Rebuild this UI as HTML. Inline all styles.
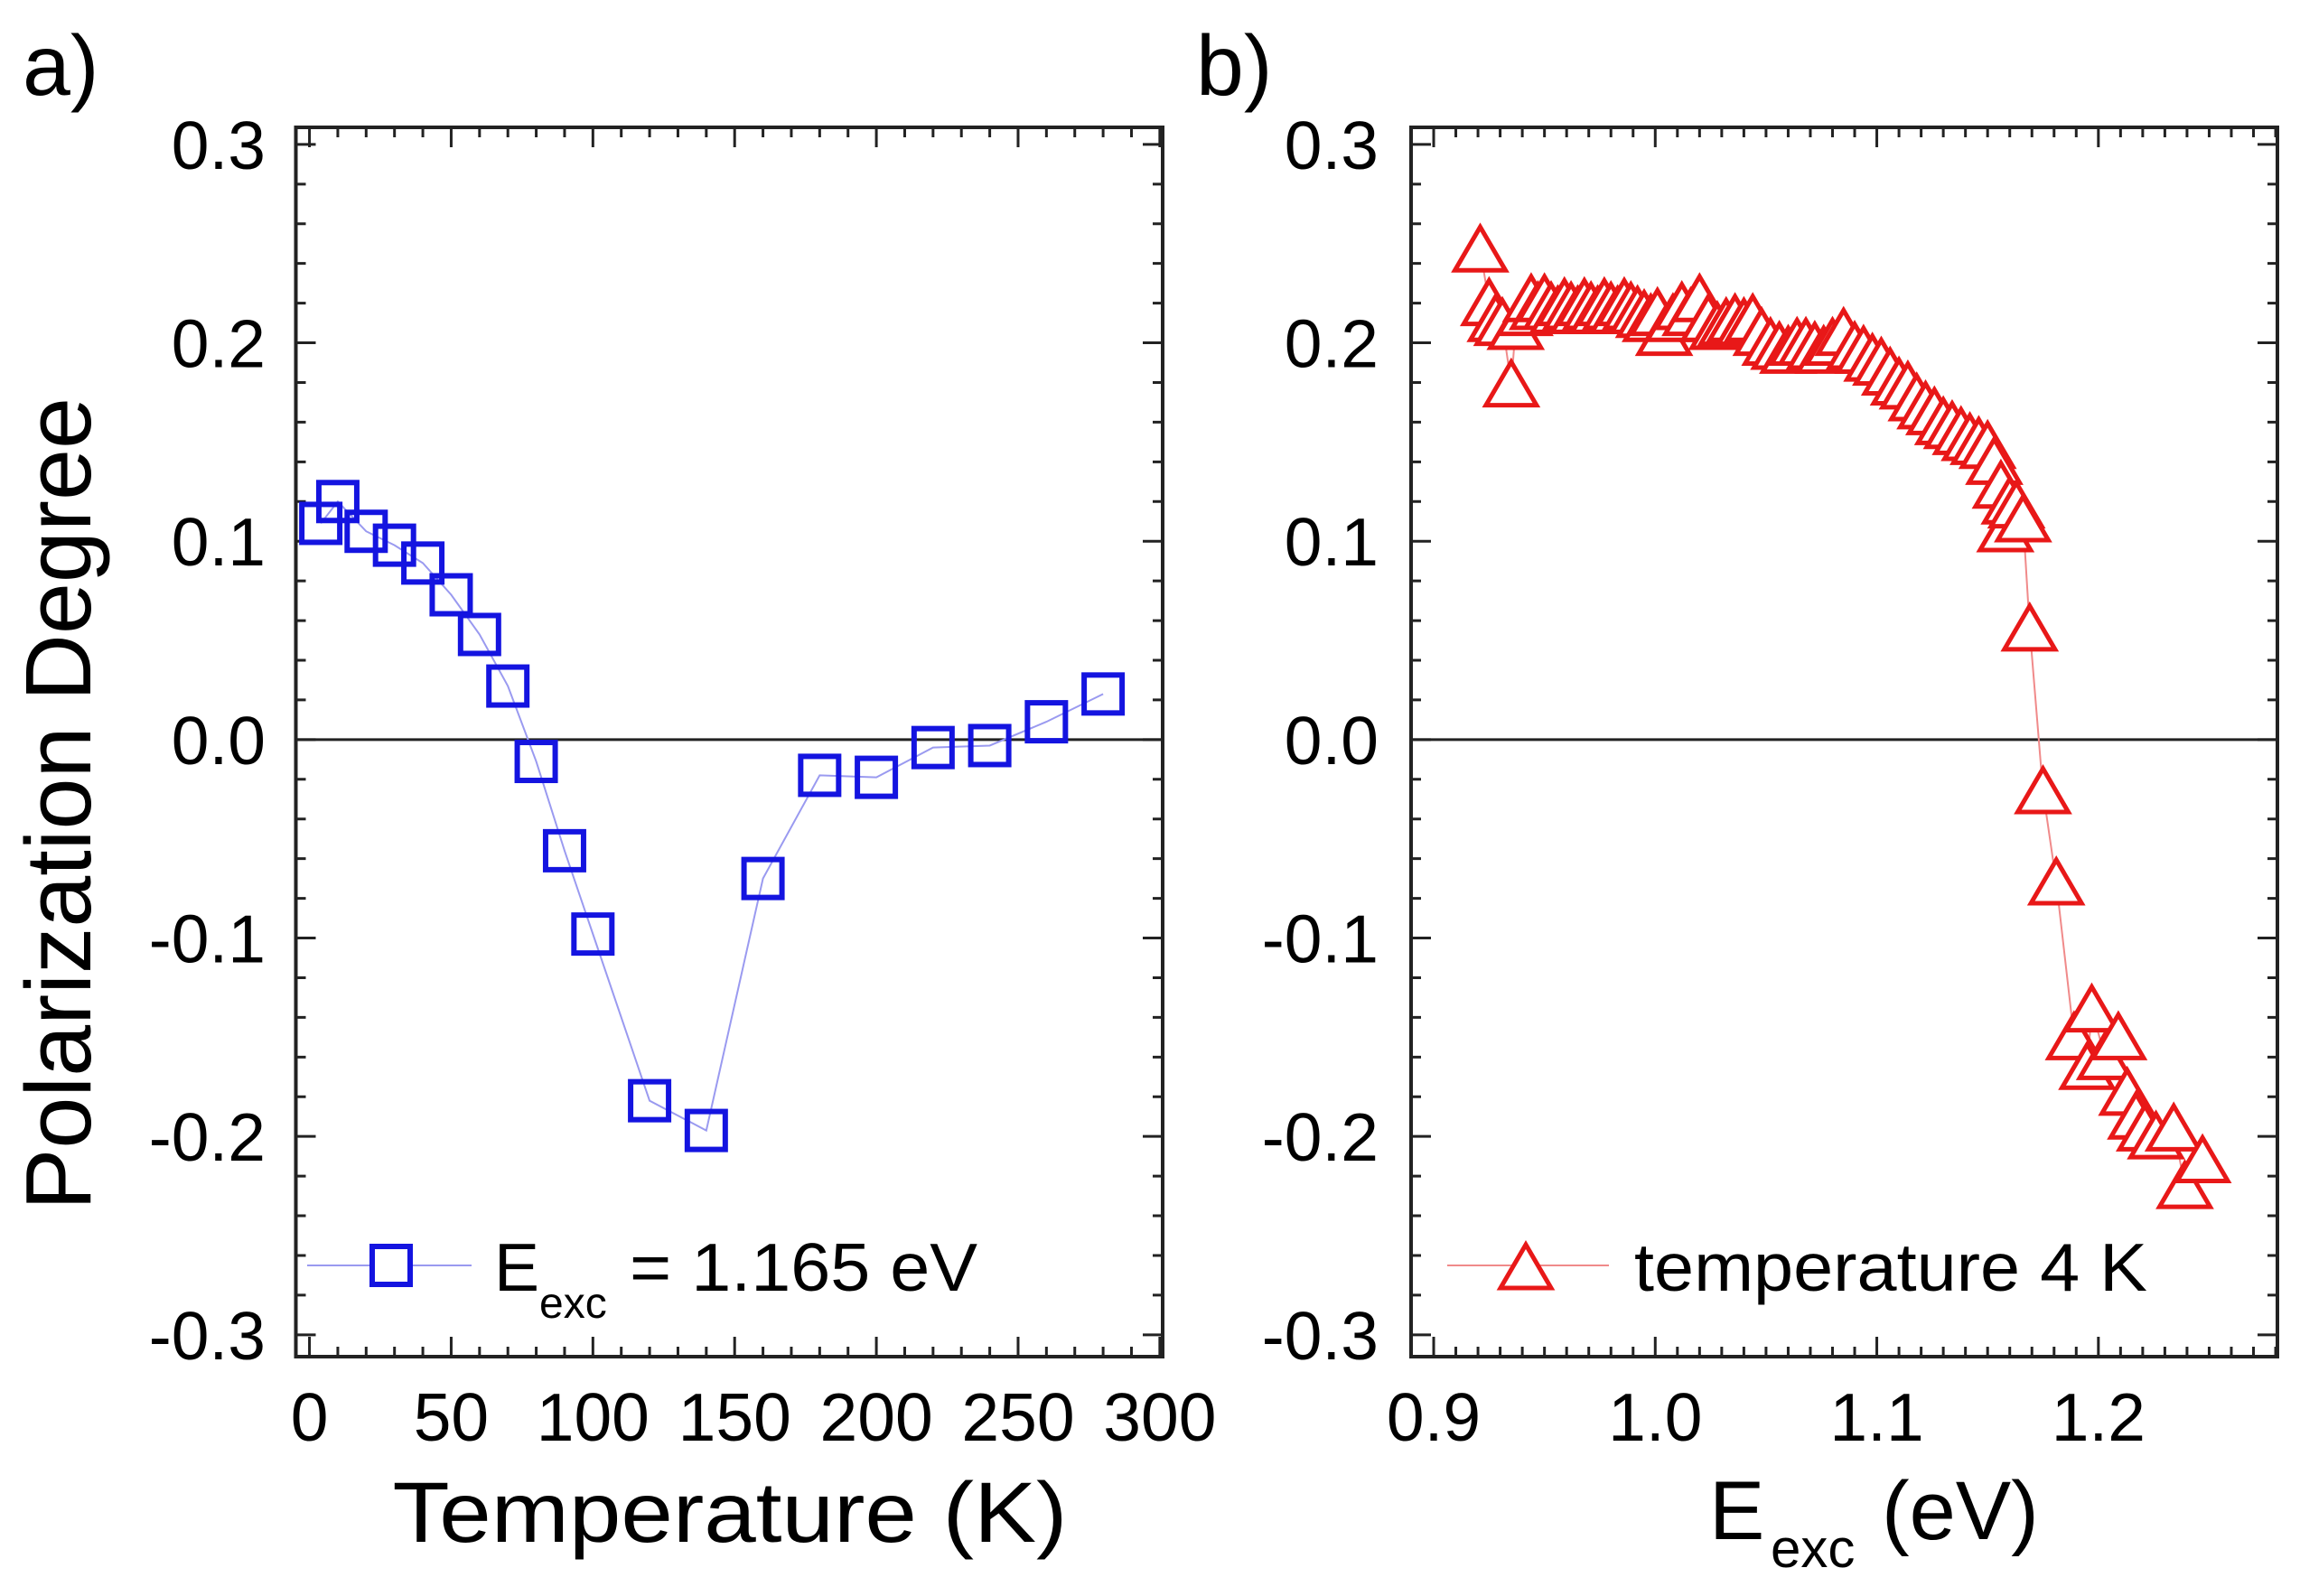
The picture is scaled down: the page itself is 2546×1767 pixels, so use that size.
<!DOCTYPE html>
<html><head><meta charset="utf-8"><style>
html,body{margin:0;padding:0;background:#fff;}
svg{display:block;font-family:"Liberation Sans",Arial,sans-serif;}
</style></head><body>
<svg id="fig" width="2546" height="1767" viewBox="0 0 2546 1767" xmlns="http://www.w3.org/2000/svg">
<text x="25" y="105" font-size="95">a)</text>
<text x="1324" y="105" font-size="95">b)</text>
<text transform="translate(100,890) rotate(-90)" text-anchor="middle" font-size="103" textLength="900" lengthAdjust="spacingAndGlyphs">Polarization Degree</text>
<text x="808" y="1707" text-anchor="middle" font-size="95" textLength="747" lengthAdjust="spacingAndGlyphs">Temperature (K)</text>
<g>
<text x="1892" y="1704" font-size="92">E</text>
<text x="1960" y="1735" font-size="60">exc</text>
<text x="2083" y="1704" font-size="92">(eV)</text>
</g>
<g id="pa"></g>
<g id="pb"></g>
</svg>
<script>
const tempK = [4,10,20,30,40,50,60,70,80,90,100,120,140,160,180,200,220,240,260,280];
const polA = [0.109,0.120,0.105,0.098,0.089,0.073,0.053,0.027,-0.011,-0.056,-0.098,-0.182,-0.197,-0.070,-0.018,-0.019,-0.004,-0.003,0.009,0.023];
const energyEv = [0.921,0.925,0.928,0.931,0.935,0.937,0.941,0.944,0.947,0.95,0.953,0.956,0.959,0.962,0.965,0.968,0.971,0.974,0.977,0.98,0.983,0.986,0.989,0.992,0.995,0.998,1.001,1.004,1.008,1.012,1.016,1.02,1.024,1.028,1.032,1.036,1.04,1.044,1.048,1.052,1.056,1.06,1.064,1.068,1.072,1.076,1.08,1.085,1.09,1.094,1.098,1.102,1.106,1.11,1.114,1.118,1.122,1.126,1.13,1.134,1.138,1.142,1.146,1.15,1.153,1.156,1.158,1.16,1.163,1.166,1.169,1.175,1.181,1.189,1.195,1.197,1.203,1.209,1.213,1.217,1.221,1.226,1.234,1.239,1.247];
const polB = [0.247,0.220,0.212,0.210,0.179,0.208,0.215,0.222,0.218,0.222,0.218,0.216,0.220,0.218,0.216,0.220,0.218,0.216,0.220,0.218,0.216,0.220,0.218,0.216,0.214,0.212,0.215,0.205,0.212,0.218,0.215,0.222,0.212,0.208,0.210,0.212,0.210,0.212,0.205,0.200,0.198,0.196,0.200,0.200,0.198,0.196,0.200,0.205,0.198,0.196,0.192,0.190,0.185,0.180,0.178,0.172,0.168,0.165,0.160,0.158,0.155,0.152,0.150,0.148,0.140,0.128,0.106,0.120,0.118,0.111,0.056,-0.026,-0.072,-0.150,-0.165,-0.136,-0.160,-0.150,-0.178,-0.190,-0.196,-0.200,-0.196,-0.225,-0.212];
const yTicks = [0.3,0.2,0.1,0.0,-0.1,-0.2,-0.3];
const yTickLabels = ["0.3","0.2","0.1","0.0","-0.1","-0.2","-0.3"];
const xTicksA = [0,50,100,150,200,250,300];
const xTickLabelsA = ["0","50","100","150","200","250","300"];
const xTicksB = [0.9,1.0,1.1,1.2];
const xTickLabelsB = ["0.9","1.0","1.1","1.2"];

const NS="http://www.w3.org/2000/svg";
function mk(parent,tag,attrs){const e=document.createElementNS(NS,tag);for(const k in attrs)e.setAttribute(k,attrs[k]);parent.appendChild(e);return e;}
const Y0=141,Y1=1502,YMAX=0.3086,YMIN=-0.311;
const yS=v=>Y0+(YMAX-v)/(YMAX-YMIN)*(Y1-Y0);

function panel(g,L,R,xmin,xmax,xMajor,xLabels,xMinorStep,yLabelRight){
  const xS=v=>L+(v-xmin)/(xmax-xmin)*(R-L);
  const fr=mk(g,'rect',{x:L,y:Y0,width:R-L,height:Y1-Y0,fill:'none',stroke:'#222','stroke-width':4});
  
  
  let d='';
  for(let v=-0.3;v<=0.3001;v+=0.02){const y=yS(v);const maj=Math.abs(Math.round(v*10)-v*10)<1e-6;const len=maj?22:11;d+=`M${L} ${y}h${len}M${R} ${y}h${-len}`;}
  for(let v=Math.ceil(xmin/xMinorStep)*xMinorStep;v<=xmax+1e-9;v+=xMinorStep){const x=xS(v);const maj=xMajor.some(t=>Math.abs(t-v)<xMinorStep/10);const len=maj?22:11;d+=`M${x} ${Y1}v${-len}M${x} ${Y0}v${len}`;}
  const tk=mk(g,'path',{d:d,stroke:'#222','stroke-width':3,fill:'none'});
  
  
  yTicks.forEach((v,i)=>{const t=mk(g,'text',{x:yLabelRight,y:yS(v)+27,'text-anchor':'end','font-size':75});t.textContent=yTickLabels[i];
    
    });
  xMajor.forEach((v,i)=>{const t=mk(g,'text',{x:xS(v),y:1595,'text-anchor':'middle','font-size':75});t.textContent=xLabels[i];
    
    });
  const z=mk(g,'line',{x1:L,x2:R,y1:yS(0),y2:yS(0),stroke:'#222','stroke-width':3});
  
  
  return xS;
}
const ga=document.getElementById('pa'), gb=document.getElementById('pb');
const xA=panel(ga,327.5,1287,-4.8,301,xTicksA,xTickLabelsA,10,294);
const xB=panel(gb,1562,2521,0.8898,1.2808,xTicksB,xTickLabelsB,0.01,1526);

const la=mk(ga,'polyline',{points:tempK.map((t,i)=>xA(t)+','+yS(polA[i])).join(' '),fill:'none',stroke:'#9a9af0','stroke-width':2});


tempK.forEach((t,i)=>{const r=mk(ga,'rect',{x:xA(t)-21,y:yS(polA[i])-21,width:42,height:42,fill:'none',stroke:'#1414e0','stroke-width':6});
  
  });
const lb=mk(gb,'polyline',{points:energyEv.map((e,i)=>xB(e)+','+yS(polB[i])).join(' '),fill:'none',stroke:'#f08a8a','stroke-width':2});


function tri(g,cx,cy){return mk(g,'polygon',{points:`${cx},${cy-25} ${cx-28},${cy+23} ${cx+28},${cy+23}`,fill:'#fff',stroke:'#e81818','stroke-width':5});}
energyEv.forEach((e,i)=>{const p=tri(gb,xB(e),yS(polB[i]));
  
  });

const lgA=mk(ga,'g',{});


mk(lgA,'line',{x1:340,x2:522,y1:1401,y2:1401,stroke:'#9a9af0','stroke-width':2});
mk(lgA,'rect',{x:412,y:1380,width:42,height:42,fill:'#fff',stroke:'#1414e0','stroke-width':6});
let t=mk(lgA,'text',{x:547,y:1429,'font-size':75});t.textContent='E';
t=mk(lgA,'text',{x:597,y:1459,'font-size':48});t.textContent='exc';
t=mk(lgA,'text',{x:697,y:1429,'font-size':75,textLength:385,lengthAdjust:'spacingAndGlyphs'});t.textContent='= 1.165 eV';
const lgB=mk(gb,'g',{});


mk(lgB,'line',{x1:1602,x2:1781,y1:1401,y2:1401,stroke:'#f08a8a','stroke-width':2});
tri(lgB,1689,1403);
t=mk(lgB,'text',{x:1809,y:1429,'font-size':75,textLength:568,lengthAdjust:'spacingAndGlyphs'});t.textContent='temperature 4 K';
</script>
</body></html>
